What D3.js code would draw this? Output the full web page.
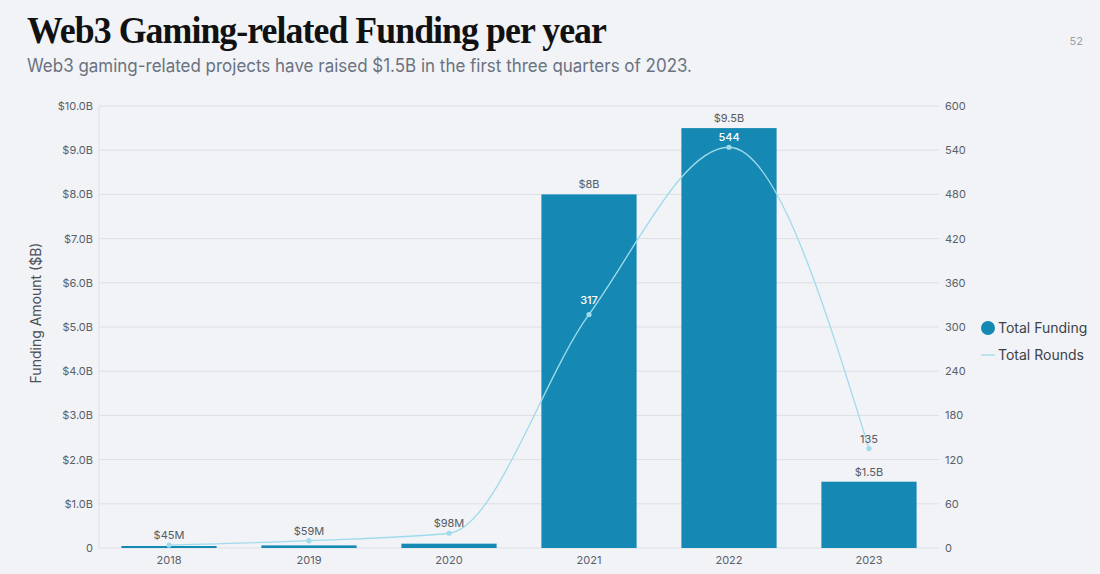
<!DOCTYPE html>
<html><head><meta charset="utf-8">
<script src="https://cdn.jsdelivr.net/npm/d3@7"></script>
<style>
html,body{margin:0;padding:0;background:#f1f3f7;}
svg{display:block;font-family:Inter,"Noto Sans",sans-serif;}
</style></head>
<body><svg id="c" width="1100" height="574"></svg>
<script>
const years = ["2018","2019","2020","2021","2022","2023"];
const funding = [0.045, 0.059, 0.098, 8, 9.5, 1.5];
const fundingLabels = ["$45M","$59M","$98M","$8B","$9.5B","$1.5B"];
const rounds = [4, 10, 20, 317, 544, 135];
const showRoundLabel = [false, false, false, true, true, true];
const leftTicks = [0,1,2,3,4,5,6,7,8,9,10];
const rightTicks = [0,60,120,180,240,300,360,420,480,540,600];

const svg = d3.select("#c");
const W = 1100, H = 574;
svg.append("rect").attr("width",W).attr("height",H).attr("fill","#f1f3f7");

const m = {l:99, r:939, t:106, b:548};
const x = d3.scaleBand().domain(years).range([m.l, m.r]).paddingInner(0.32).paddingOuter(0.16);
const yL = d3.scaleLinear().domain([0,10]).range([m.b, m.t]);
const yR = d3.scaleLinear().domain([0,600]).range([m.b, m.t]);

// title
svg.append("text").attr("x",27).attr("y",43)
  .attr("font-family","'Liberation Serif','DejaVu Serif',serif").attr("font-weight","bold")
  .attr("font-size",38).attr("fill","#111").attr("textLength",579).attr("lengthAdjust","spacingAndGlyphs")
  .attr("letter-spacing",-1)
  .text("Web3 Gaming-related Funding per year");
svg.append("text").attr("x",27).attr("y",72).attr("font-size",18).attr("fill","#6b7280")
  .attr("textLength",665).attr("lengthAdjust","spacingAndGlyphs")
  .text("Web3 gaming-related projects have raised $1.5B in the first three quarters of 2023.");
svg.append("text").attr("x",1083).attr("y",45).attr("text-anchor","end").attr("font-size",11).attr("fill","#9aa0a8").text("52");

// gridlines
const grid = svg.append("g");
grid.selectAll("line").data(leftTicks).join("line")
  .attr("x1",m.l).attr("x2",m.r).attr("y1",d=>yL(d)).attr("y2",d=>yL(d))
  .attr("stroke","#dcdfe4").attr("stroke-width",1);
svg.append("line").attr("x1",m.l).attr("x2",m.l).attr("y1",m.t).attr("y2",m.b).attr("stroke","#dcdfe4");

// left axis
const fmtL = d => d===0 ? "0" : "$" + d.toFixed(1) + "B";
const axL = svg.append("g").attr("transform",`translate(${m.l},0)`)
  .call(d3.axisLeft(yL).tickValues(leftTicks).tickFormat(fmtL).tickSize(0).tickPadding(6));
axL.select(".domain").remove();
axL.selectAll("text").attr("font-size",11).attr("fill","#5a6068").attr("font-family","Inter,sans-serif");

// right axis
const axR = svg.append("g").attr("transform",`translate(${m.r},0)`)
  .call(d3.axisRight(yR).tickValues(rightTicks).tickSize(0).tickPadding(6));
axR.select(".domain").remove();
axR.selectAll("text").attr("font-size",11).attr("fill","#5a6068").attr("font-family","Inter,sans-serif");

// x axis
const axX = svg.append("g").attr("transform",`translate(0,${m.b})`)
  .call(d3.axisBottom(x).tickSize(0).tickPadding(8));
axX.select(".domain").remove();
axX.selectAll("text").attr("font-size",11).attr("fill","#5a6068").attr("font-family","Inter,sans-serif");

// y title
svg.append("text").attr("transform",`translate(41,313) rotate(-90)`).attr("text-anchor","middle")
  .attr("font-size",14).attr("fill","#4b5058").text("Funding Amount ($B)");

// bars
const bw = x.bandwidth();
svg.append("g").selectAll("rect").data(years).join("rect")
  .attr("x",d=>x(d)).attr("width",bw)
  .attr("y",(d,i)=>Math.min(yL(funding[i]), m.b-2))
  .attr("height",(d,i)=>Math.max(m.b-yL(funding[i]),2))
  .attr("fill","#1589b3");

// line
const cx = d => x(d)+bw/2;
const pts = years.map((d,i)=>[cx(d), yR(rounds[i])]);
svg.append("path").attr("d", d3.line().curve(d3.curveMonotoneX)(pts))
  .attr("fill","none").attr("stroke","#9fdbea").attr("stroke-width",1.3);
svg.append("g").selectAll("circle").data(pts).join("circle")
  .attr("cx",d=>d[0]).attr("cy",d=>d[1]).attr("r",2.6).attr("fill","#9fdbea");

// funding labels
svg.append("g").selectAll("text").data(years).join("text")
  .attr("x",d=>cx(d))
  .attr("y",(d,i)=>{
    const bt = Math.min(yL(funding[i]), m.b-2);
    const py = yR(rounds[i]);
    const base = (py < bt && bt - py < 16) ? py : bt;
    return base - 6;
  })
  .attr("text-anchor","middle").attr("font-size",11).attr("fill","#555b63")
  .text((d,i)=>fundingLabels[i]);

// rounds labels
svg.append("g").selectAll("text").data(years.filter((d,i)=>showRoundLabel[i])).join("text")
  .attr("x",d=>cx(d))
  .attr("y",d=>{const i=years.indexOf(d); return yR(rounds[i]) - (i===3?10:6);})
  .attr("text-anchor","middle").attr("font-size",11)
  .attr("fill",d=>{const i=years.indexOf(d); return yR(rounds[i]) > yL(funding[i]) ? "#ffffff" : "#555b63";})
  .attr("font-weight",d=>{const i=years.indexOf(d); return yR(rounds[i]) > yL(funding[i]) ? "500" : "400";})
  .text(d=>rounds[years.indexOf(d)]);

// legend
const lg = svg.append("g");
lg.append("circle").attr("cx",988).attr("cy",328).attr("r",7).attr("fill","#1589b3");
lg.append("text").attr("x",998).attr("y",333).attr("font-size",14).attr("fill","#3d4249").text("Total Funding");
lg.append("line").attr("x1",981).attr("x2",995).attr("y1",355).attr("y2",355).attr("stroke","#9fdbea").attr("stroke-width",1.3);
lg.append("text").attr("x",998).attr("y",360).attr("font-size",14).attr("fill","#3d4249").text("Total Rounds");
</script></body></html>
